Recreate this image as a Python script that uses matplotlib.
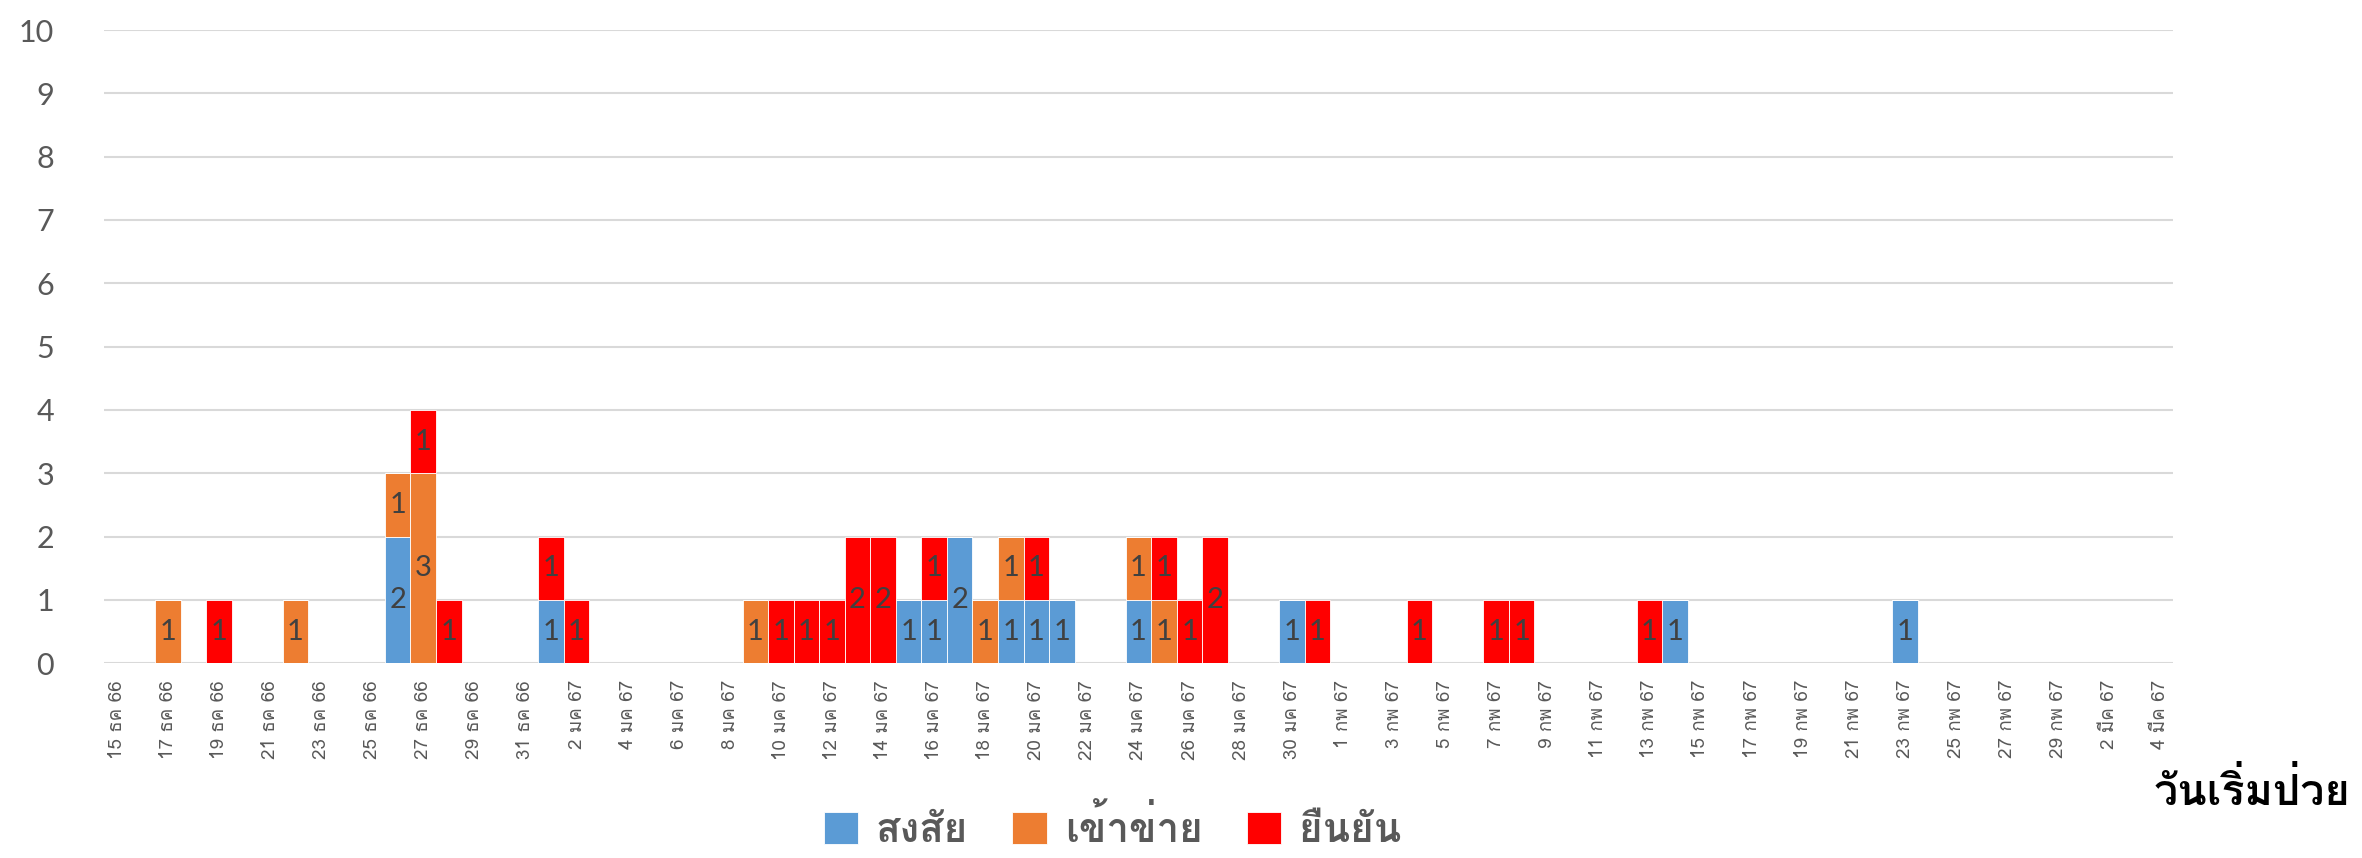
import matplotlib
matplotlib.use("Agg")
import matplotlib.pyplot as plt
import numpy as np
import pandas as pd

# ---- data ----
dates = pd.date_range("2023-12-15", "2024-03-04", freq="D")
thai_months = {12: "ธค", 1: "มค", 2: "กพ", 3: "มีค"}
date_labels = [f"{d.day} {thai_months[d.month]} {(d.year + 543) % 100}" for d in dates]

suspected = [0, 0, 0, 0, 0, 0, 0, 0, 0, 0,
             0, 2, 0, 0, 0, 0, 0, 1, 0, 0,
             0, 0, 0, 0, 0, 0, 0, 0, 0, 0,
             0, 1, 1, 2, 0, 1, 1, 1, 0, 0,
             1, 0, 0, 0, 0, 0, 1, 0, 0, 0,
             0, 0, 0, 0, 0, 0, 0, 0, 0, 0,
             0, 1, 0, 0, 0, 0, 0, 0, 0, 0,
             1, 0, 0, 0, 0, 0, 0, 0, 0, 0,
             0]
probable = [0, 0, 1, 0, 0, 0, 0, 1, 0, 0,
            0, 1, 3, 0, 0, 0, 0, 0, 0, 0,
            0, 0, 0, 0, 0, 1, 0, 0, 0, 0,
            0, 0, 0, 0, 1, 1, 0, 0, 0, 0,
            1, 1, 0, 0, 0, 0, 0, 0, 0, 0,
            0, 0, 0, 0, 0, 0, 0, 0, 0, 0,
            0, 0, 0, 0, 0, 0, 0, 0, 0, 0,
            0, 0, 0, 0, 0, 0, 0, 0, 0, 0,
            0]
confirmed = [0, 0, 0, 0, 1, 0, 0, 0, 0, 0,
             0, 0, 1, 1, 0, 0, 0, 1, 1, 0,
             0, 0, 0, 0, 0, 0, 1, 1, 1, 2,
             2, 0, 1, 0, 0, 0, 1, 0, 0, 0,
             0, 1, 1, 2, 0, 0, 0, 1, 0, 0,
             0, 1, 0, 0, 1, 1, 0, 0, 0, 0,
             1, 0, 0, 0, 0, 0, 0, 0, 0, 0,
             0, 0, 0, 0, 0, 0, 0, 0, 0, 0,
             0]
series_names = ["สงสัย", "เข้าข่าย", "ยืนยัน"]
series_colors = ["#5B9BD5", "#ED7D31", "#FF0000"]
x_title = "วันเริ่มป่วย"
y_ticks = list(range(0, 11))

# ---- plot ----
THAI = ["Loma", "DejaVu Sans"]
NUM = ["Lato", "DejaVu Sans"]

fig = plt.figure(figsize=(23.62, 8.58), dpi=100)
ax = fig.add_axes([0.044, 0.227, 0.876, 0.738])

x = np.arange(len(date_labels))
bottom = np.zeros(len(x))
for vals, name, col in zip([suspected, probable, confirmed], series_names, series_colors):
    v = np.array(vals, dtype=float)
    ax.bar(x, v, width=1.0, bottom=bottom, color=col, edgecolor="white",
           linewidth=0.6, label=name, zorder=3)
    for xi, b, h in zip(x, bottom, v):
        if h > 0:
            ax.text(xi, b + h / 2, f"{int(h)}", ha="center", va="center",
                    fontsize=21, color="#404040", family=NUM, zorder=4)
    bottom += v

ax.set_xlim(-0.5, len(x) - 0.5)
ax.set_ylim(0, 10)
ax.set_yticks(y_ticks)
ax.set_yticklabels([str(t) for t in y_ticks], family=NUM, fontsize=22, color="#595959")
ax.tick_params(axis="y", length=0, pad=36)
ax.set_xticks(x[::2])
ax.set_xticklabels(date_labels[::2], rotation=90, fontsize=13.5, color="#595959",
                   family=THAI, va="top", ha="center")
ax.tick_params(axis="x", length=0, pad=12)
ax.grid(axis="y", color="#D9D9D9", linewidth=1.5, zorder=0)
for s in ax.spines.values():
    s.set_visible(False)

fig.text(0.995, 0.062, x_title, ha="right", va="baseline", fontsize=31,
         fontweight="bold", color="black", family=THAI)

fig.legend(loc="center", bbox_to_anchor=(0.471, 0.035), ncol=3, frameon=False,
           prop={"family": THAI, "size": 29, "weight": "bold"}, labelcolor="#595959",
           handlelength=0.85, handleheight=0.85, handletextpad=0.45,
           columnspacing=1.1)

fig.savefig("out.png", dpi=100)
